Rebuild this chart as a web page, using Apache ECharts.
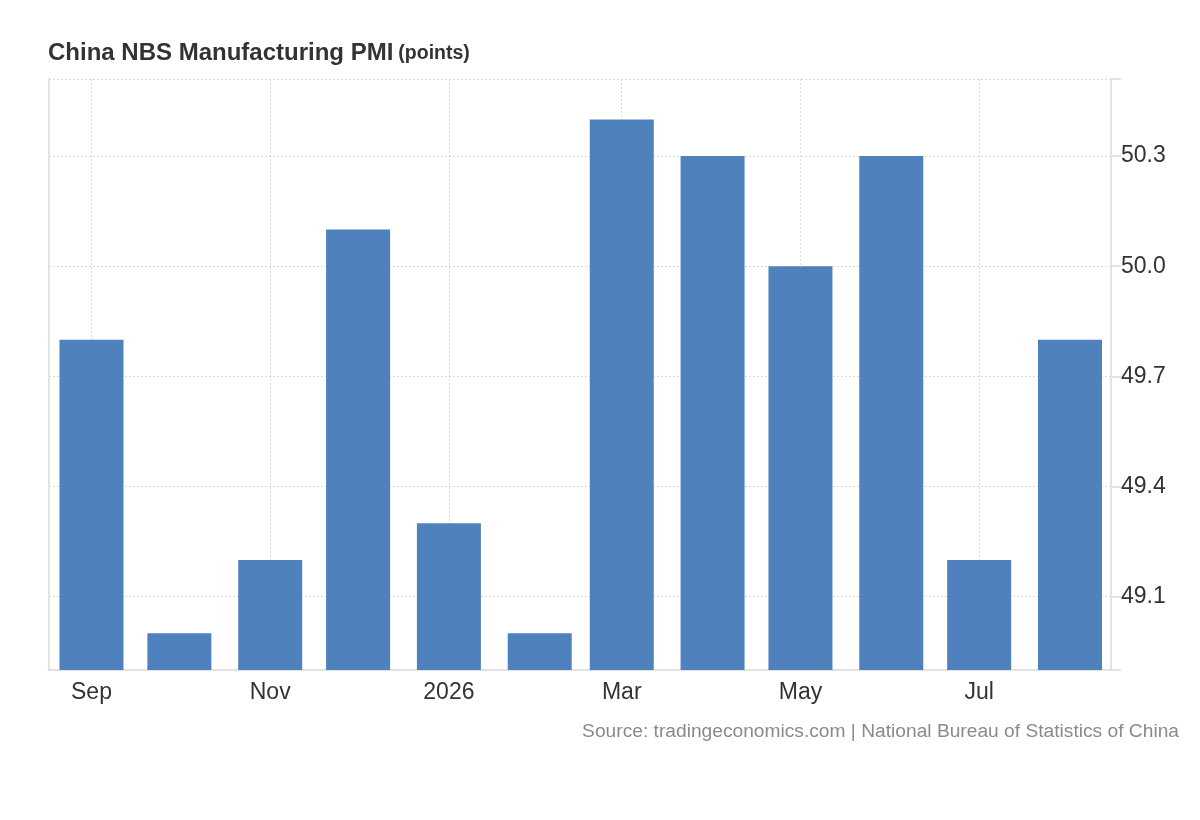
<!DOCTYPE html>
<html>
<head>
<meta charset="utf-8">
<script src="https://cdn.jsdelivr.net/npm/echarts@6/dist/echarts.min.js"></script>
<style>
html,body{margin:0;padding:0;background:#fff;}
#chart{width:1200px;height:820px;}
</style>
</head>
<body>
<div id="chart"></div>
<script>
// Data
const months = ['2025-09-01','2025-10-01','2025-11-01','2025-12-01','2026-01-01','2026-02-01',
                '2026-03-01','2026-04-01','2026-05-01','2026-06-01','2026-07-01','2026-08-01'];
const pmiValues = [49.8, 49.0, 49.2, 50.1, 49.3, 49.0, 50.4, 50.3, 50.0, 50.3, 49.2, 49.8];
const xTickDates = ['2025-09-01','2025-11-01','2026-01-01','2026-03-01','2026-05-01','2026-07-01'];
const xTickLabels = ['Sep','Nov','2026','Mar','May','Jul'];
const yTickLabels = [49.1, 49.4, 49.7, 50.0, 50.3];
const yMin = 48.9, yMax = 50.51;
const xMin = '2025-08-17T12:00:00', xMax = '2026-08-15T00:00:00';

const FONT = "'Liberation Sans', Arial, Helvetica, sans-serif";
const toTs = s => echarts.time.parse(s).getTime();
const xTickTs = xTickDates.map(toTs);
const labelFor = v => {
  const i = xTickTs.indexOf(v);
  return i >= 0 ? xTickLabels[i] : '';
};

const chart = echarts.init(document.getElementById('chart'));
const gridLine = {show: true, lineStyle: {color: '#dadada', width: 1, type: [2, 2]}};
chart.setOption({
  animation: false,
  title: {
    left: 48, top: 37, padding: 0,
    text: '{a|China NBS Manufacturing PMI} {b|(points)}',
    textStyle: {
      rich: {
        a: {fontFamily: FONT, fontSize: 24, fontWeight: 'bold', color: '#333', verticalAlign: 'bottom', lineHeight: 28},
        b: {fontFamily: FONT, fontSize: 19.5, fontWeight: 'bold', color: '#333', verticalAlign: 'bottom', lineHeight: 28, padding: [0,0,1,0]}
      }
    }
  },
  graphic: [{
    type: 'text', right: 21, top: 722,
    style: {text: 'Source: tradingeconomics.com | National Bureau of Statistics of China',
      fontFamily: FONT, fontSize: 19.2, fill: '#8a8a8a'}
  }],
  grid: {left: 49, right: 89, top: 79, bottom: 150, containLabel: false},
  xAxis: {
    type: 'value', min: toTs(xMin), max: toTs(xMax),
    axisLine: {show: true, onZero: false, lineStyle: {color: '#e3e3e3', width: 2}},
    axisTick: {show: false, customValues: xTickTs},
    axisLabel: {customValues: xTickTs, formatter: labelFor, color: '#333',
      fontFamily: FONT, fontSize: 23, margin: 11, hideOverlap: false},
    splitLine: gridLine
  },
  yAxis: [{
    type: 'value', position: 'right', min: yMin, max: yMax,
    axisLine: {show: true, onZero: false, lineStyle: {color: '#e3e3e3', width: 2}},
    axisTick: {show: true, length: 10, lineStyle: {color: '#e3e3e3', width: 2},
      customValues: [yMin].concat(yTickLabels, [yMax])},
    axisLabel: {customValues: yTickLabels, formatter: v => v.toFixed(1), color: '#333',
      fontFamily: FONT, fontSize: 23, margin: 10, padding: [0,0,6,0]},
    splitLine: gridLine
  }, {
    type: 'value', position: 'left', min: yMin, max: yMax,
    axisLine: {show: true, onZero: false, lineStyle: {color: '#e3e3e3', width: 2}},
    axisTick: {show: false}, axisLabel: {show: false}, splitLine: {show: false}
  }],
  series: [{
    type: 'bar', yAxisIndex: 0, barWidth: 64,
    itemStyle: {color: '#4f81bd'},
    data: months.map((m, i) => [toTs(m), pmiValues[i]])
  }]
});
</script>
</body>
</html>
